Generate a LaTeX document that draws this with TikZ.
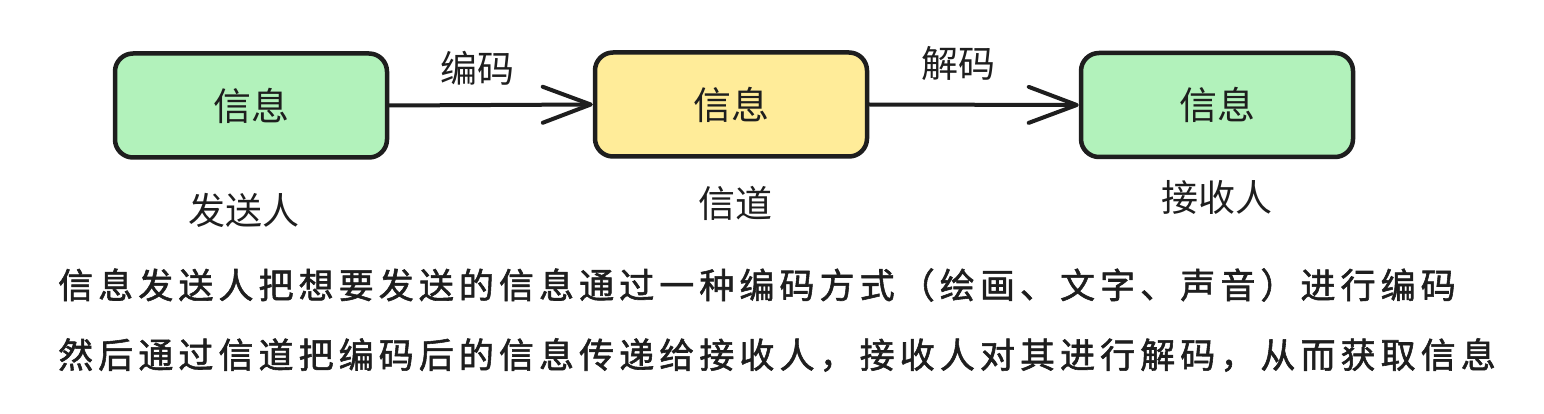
\documentclass[tikz,border=0pt]{standalone}
\usepackage{fontspec}
\usetikzlibrary{arrows.meta}
\newfontfamily\cjk{Noto Sans CJK SC}
\newfontfamily\cjkspaced[LetterSpace=14.5, FakeBold=1.6]{Noto Sans CJK SC}
\definecolor{strokec}{HTML}{1E1E1E}
\definecolor{greenf}{HTML}{B2F2BB}
\definecolor{yellowf}{HTML}{FFEC99}
\tikzset{
  box/.style={draw=strokec, line width=4.5pt, rounded corners=18pt, minimum width=272pt, minimum height=104pt, inner sep=0pt, font=\cjk\fontsize{38}{44}\selectfont, text=strokec},
  lbl/.style={inner sep=0pt, font=\cjk\fontsize{37}{44}\selectfont, text=strokec},
  para/.style={inner sep=0pt, anchor=west, font=\cjkspaced\fontsize{35}{42}\selectfont, text=strokec},
  conn/.style={draw=strokec, line width=4pt, line cap=round, -{Straight Barb[length=48pt,width=36pt,line width=4pt,round]}}
}
\begin{document}
\begin{tikzpicture}[x=1pt,y=-1pt]
\useasboundingbox[fill=white] (0,0) rectangle (1544,414);
\node[box, fill=greenf] (b1) at (251,105.5) {信息};
\node[box, fill=yellowf] (b2) at (731,104.5) {信息};
\node[box, fill=greenf] (b3) at (1217,105) {信息};
\draw[conn] (b1.east) -- (b2.west);
\draw[conn] (b2.east) -- (b3.west);
\node[lbl] (l1) at (477,68) {编码};
\node[lbl] (l2) at (958,63) {解码};
\node[lbl] (s1) at (244,210) {发送人};
\node[lbl] (s2) at (735,203) {信道};
\node[lbl] (s3) at (1217,197) {接收人};
\node[para] (p1) at (58,285) {信息发送人把想要发送的信息通过一种编码方式（绘画、文字、声音）进行编码};
\node[para] (p2) at (58,355) {然后通过信道把编码后的信息传递给接收人，接收人对其进行解码，从而获取信息};
\end{tikzpicture}
\end{document}
